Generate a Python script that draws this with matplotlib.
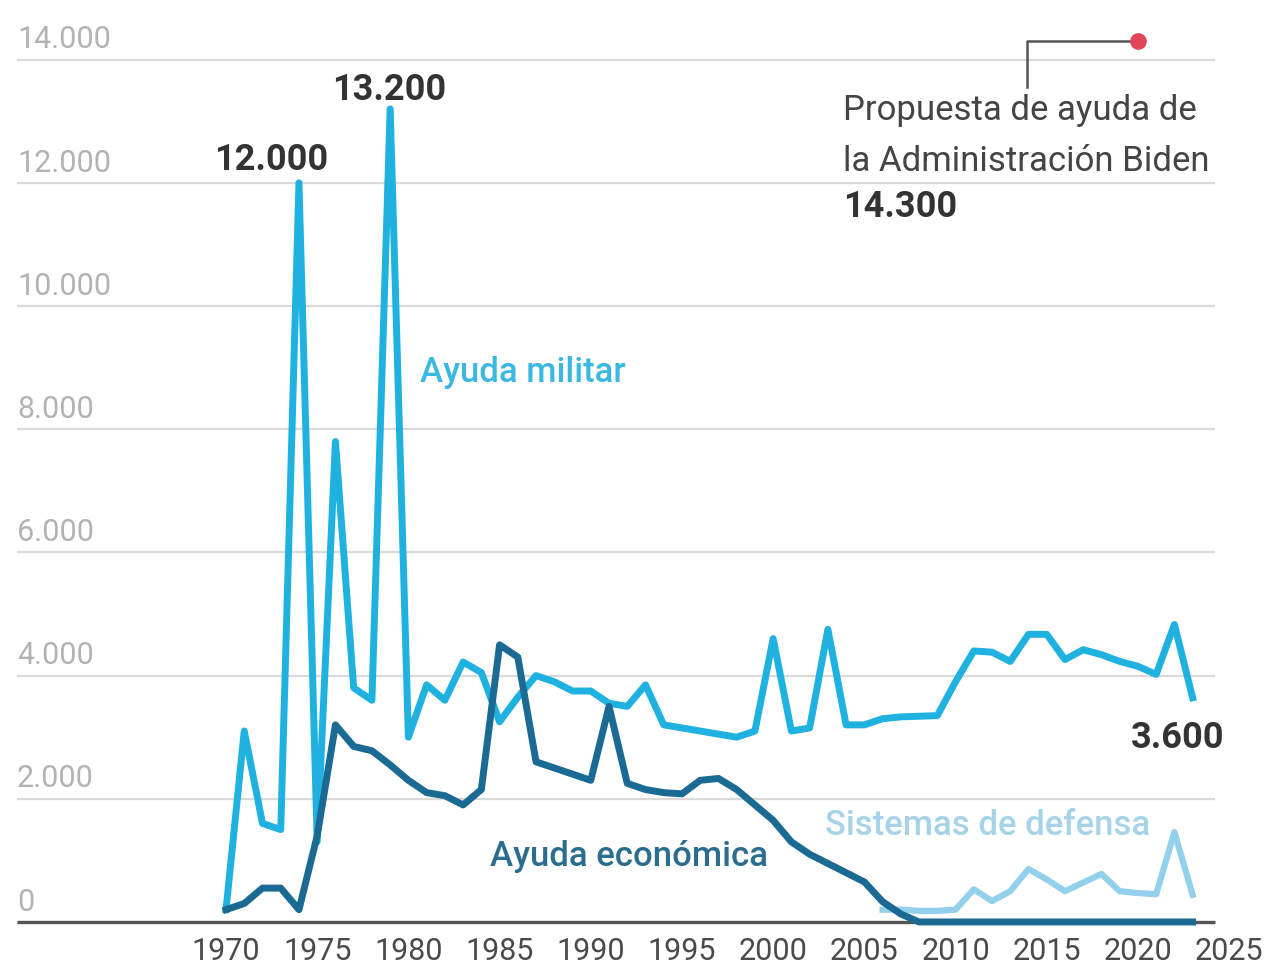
import numpy as np
import matplotlib
matplotlib.use("Agg")
import matplotlib.pyplot as plt

plt.rcParams['font.family'] = ['Roboto', 'DejaVu Sans']

# Datos (millones de dólares)
years = list(range(1970, 2024))
military = [200, 3100, 1600, 1500, 12000, 1300, 7800, 3800, 3600, 13200,
            3000, 3850, 3600, 4220, 4050, 3250, 3650, 4000, 3900, 3750,
            3750, 3550, 3500, 3850, 3200, 3150, 3100, 3050, 3000, 3100,
            4600, 3100, 3150, 4750, 3200, 3200, 3300, 3330, 3340, 3350,
            3900, 4400, 4380, 4230, 4670, 4670, 4260, 4420, 4340, 4230,
            4150, 4020, 4830, 3640]
economic = [200, 300, 550, 550, 200, 1400, 3200, 2850, 2780, 2550,
            2300, 2100, 2050, 1900, 2150, 4500, 4300, 2600, 2500, 2400,
            2300, 3500, 2250, 2150, 2100, 2080, 2300, 2330, 2150, 1900,
            1650, 1300, 1100, 950, 800, 650, 330, 130, 0, 0,
            0, 0, 0, 0, 0, 0, 0, 0, 0, 0,
            0, 0, 0, 0]
defense_years = list(range(2006, 2024))
defense = [200, 200, 180, 180, 200, 530, 340, 500, 860, 690,
           500, 640, 780, 500, 470, 450, 1460, 440]

proposal_year = 2020
proposal_value = 14300

y_ticks = [0, 2000, 4000, 6000, 8000, 10000, 12000, 14000]
y_labels = ['0', '2.000', '4.000', '6.000', '8.000', '10.000', '12.000', '14.000']
x_ticks = list(range(1970, 2030, 5))

# colores
c_mil = '#1fb1df'
c_eco = '#1b6a93'
c_def = '#93d0ec'

fig = plt.figure(figsize=(12.67, 9.70), dpi=100)
ax = fig.add_axes([0.01342, 0.04124, 0.9692, 0.9381])
x0, x1 = 1958.54, 2025.87
ax.set_xlim(x0, x1)
ax.set_ylim(-114, 14659)

# rejilla
grid_end = 2024.22
ax.hlines(y_ticks[1:], x0, grid_end, color='#dadada', lw=1.6, zorder=1)
ax.hlines(0, x0, grid_end, color='#555555', lw=2.4, zorder=2)
for v, lab in zip(y_ticks, y_labels):
    ax.text(x0, v + 200, lab, ha='left', va='baseline', fontsize=22,
            color='#b3b3b3')

# series
ax.plot(defense_years, defense, color=c_def, lw=4.5, zorder=3)
ax.plot(years, military, color=c_mil, lw=5, zorder=4)
ax.plot(years, economic, color=c_eco, lw=5, zorder=5, clip_on=False)

# etiquetas de series
ax.text(1980.64, 8780, 'Ayuda militar', color='#3ab8e2', fontsize=25,
        fontweight='medium', va='baseline')
ax.text(1984.47, 925, 'Ayuda económica', color='#2b6d8f', fontsize=25,
        fontweight='medium', va='baseline')
ax.text(2002.84, 1430, 'Sistemas de defensa', color='#a6d3e8', fontsize=25,
        fontweight='medium', va='baseline')

# valores destacados
ax.text(1972.47, 12224, '12.000', ha='center', va='baseline', fontsize=26,
        fontweight='bold', color='#333333')
ax.text(1978.94, 13360, '13.200', ha='center', va='baseline', fontsize=26,
        fontweight='bold', color='#333333')
ax.text(2022.2, 2840, '3.600', ha='center', va='baseline', fontsize=26,
        fontweight='bold', color='#333333')

# propuesta Biden
ax.plot([2013.9, 2013.9, proposal_year], [13555, proposal_value, proposal_value],
        color='#555555', lw=1.8, zorder=5)
ax.plot(proposal_year, proposal_value, 'o', color='#e04657', ms=11, zorder=6)
ax.text(2003.83, 13036, 'Propuesta de ayuda de', fontsize=25,
        color='#444444', va='baseline')
ax.text(2003.83, 12208, 'la Administración Biden', fontsize=25,
        color='#444444', va='baseline')
ax.text(2003.83, 11461, '14.300', fontsize=26, fontweight='bold',
        color='#333333', va='baseline')

ax.set_xticks(x_ticks)
ax.set_xticklabels([str(x) for x in x_ticks], fontsize=22, color='#4a4a4a')
ax.tick_params(axis='x', length=0, pad=5)
ax.set_yticks([])
for s in ax.spines.values():
    s.set_visible(False)

fig.savefig('out.png', dpi=100, facecolor='white')
